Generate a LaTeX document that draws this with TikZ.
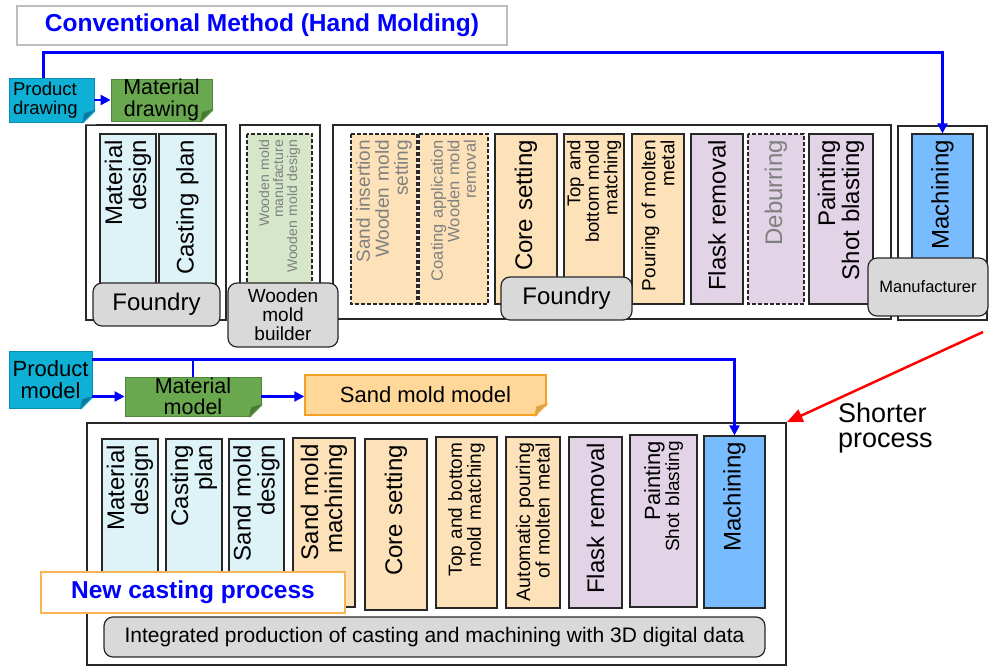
\documentclass[tikz,border=0pt]{standalone}
\usepackage{fontspec}
\setmainfont{Liberation Sans}
\usepackage{tikz}
\usetikzlibrary{arrows.meta}

\definecolor{edge}{RGB}{40,40,40}
\definecolor{taggray}{RGB}{217,217,217}
\definecolor{paleblue}{RGB}{222,243,248}
\definecolor{palegreen}{RGB}{214,230,200}
\definecolor{paleorange}{RGB}{253,226,185}
\definecolor{palepurple}{RGB}{226,211,230}
\definecolor{machblue}{RGB}{120,187,255}
\definecolor{docblue}{RGB}{15,176,214}
\definecolor{docblueedge}{RGB}{10,140,180}
\definecolor{docbluefold}{RGB}{10,118,152}
\definecolor{docgreen}{RGB}{106,168,79}
\definecolor{docgreenedge}{RGB}{80,135,60}
\definecolor{docgreenfold}{RGB}{74,118,52}
\definecolor{sandfill}{RGB}{255,216,153}
\definecolor{sandedge}{RGB}{245,160,35}
\definecolor{sandfold}{RGB}{212,165,95}
\definecolor{titleedge}{RGB}{190,190,190}
\definecolor{newedge}{RGB}{247,180,80}
\definecolor{ghosttext}{RGB}{128,128,128}

\newcommand{\fsz}[1]{\fontsize{#1}{#1}\selectfont}
% dog-ear at the lower right corner of a document node
\newcommand{\foldcorner}[3]{%
  \fill[white] ([xshift=2pt,yshift=12pt]#1.south east) -- ([xshift=2pt,yshift=-2pt]#1.south east)
     -- ([xshift=-12pt,yshift=-2pt]#1.south east) -- cycle;
  \filldraw[fill=#2, draw=#3, line width=0.8pt] ([yshift=12pt]#1.south east)
     -- ([xshift=-12pt]#1.south east) -- ([xshift=-10pt,yshift=9pt]#1.south east) -- cycle;}

\begin{document}
\begin{tikzpicture}[x=1pt,y=-1pt,
  >={Triangle[width=10pt,length=10pt]},
  stage/.style 2 args={rotate=90, draw=edge, line width=1.2pt, minimum width=#1,
    minimum height=#2, text width=#1-12pt, inner xsep=6pt, inner ysep=0pt, align=right},
  ghost/.style={dash pattern=on 4pt off 2pt, text=ghosttext},
  group/.style={draw=edge, line width=1.4pt, fill=white},
  tag/.style={draw=edge, line width=1.2pt, fill=taggray, rounded corners=9pt,
    inner sep=0pt, align=center},
  doc/.style={line width=0.8pt, inner sep=0pt, align=center},
  flow/.style={->, blue, line width=2.2pt}]
\useasboundingbox (0,0) rectangle (989,668);

\node[draw=titleedge, line width=1.5pt, minimum width=490, minimum height=39, text=blue,
  font=\fsz{24.5}\bfseries] (title) at (262,25.5) {Conventional Method (Hand Molding)};

%% hand molding
\node[group, minimum width=140, minimum height=195] (fA) at (156,222.5) {};
\node[group, minimum width=80, minimum height=193] (wA) at (280,221.5) {};
\node[group, minimum width=558, minimum height=194] (gA) at (612,222) {};
\node[group, minimum width=89, minimum height=194] (mA) at (942.5,223) {};

\node[stage={170}{56}, fill=paleblue, font=\fsz{24}] (mdA) at (128,219) {Material\\design};
\node[stage={170}{57}, fill=paleblue, font=\fsz{24}] (cpA) at (187.5,219) {Casting plan};
\node[stage={170}{65}, ghost, fill=palegreen, font=\fsz{14}] (wmA) at (279.5,219) {Wooden mold\\manufacture\\Wooden mold design};
\node[stage={170}{66}, ghost, fill=paleorange, font=\fsz{19}] (siA) at (384,219) {Sand insertion\\Wooden mold\\setting};
\node[stage={170}{69}, ghost, fill=paleorange, font=\fsz{16.5}] (caA) at (453.5,219) {Coating application\\Wooden mold\\removal};
\node[stage={170}{62}, fill=paleorange, font=\fsz{24}] (csA) at (526,219) {Core setting};
\node[stage={170}{60}, fill=paleorange, font=\fsz{18.5}] (tbA) at (594,219) {Top and\\bottom mold\\matching};
\node[stage={170}{52}, fill=paleorange, font=\fsz{19}] (pmA) at (658,219) {Pouring of molten\\metal};
\node[stage={170}{52}, fill=palepurple, font=\fsz{24}] (frA) at (717,219) {Flask removal};
\node[stage={170}{56}, ghost, fill=palepurple, font=\fsz{24}] (dbA) at (776,219) {Deburring};
\node[stage={170}{64}, fill=palepurple, font=\fsz{24}] (psA) at (841,219) {Painting\\Shot blasting};
\node[stage={170}{61}, fill=machblue, font=\fsz{24}] (mcA) at (942.5,219) {Machining};

\node[tag, minimum width=127, minimum height=43, font=\fsz{24}] (fdA) at (156.5,304.5) {Foundry};
\node[tag, minimum width=110, minimum height=64, font=\fsz{19}] (wdA) at (283,315) {Wooden\\mold\\builder};
\node[tag, minimum width=131, minimum height=43, font=\fsz{24}] (fdB) at (566.5,298.5) {Foundry};
\node[tag, minimum width=120, minimum height=58, font=\fsz{16.5}] (mfA) at (928,287) {Manufacturer};

\node[doc, fill=docblue, draw=docblueedge, minimum width=85, minimum height=44, text width=77,
  align=left, font=\fsz{18.5}] (pd) at (51.5,100) {Product\\drawing};
\node[doc, fill=docgreen, draw=docgreenedge, minimum width=101, minimum height=42,
  font=\fsz{21.5}] (md) at (161.5,100) {Material\\drawing};
\foldcorner{pd}{docbluefold}{docblueedge}
\foldcorner{md}{docgreenfold}{docgreenedge}

% the stage nodes are turned, so their top side is .east
\draw[flow] (pd.east) -- (md.west);
\draw[flow] ([xshift=-8pt]pd.north) -- ++(0,-25) -| (mcA.east);

%% new process
\node[group, minimum width=699, minimum height=242] (nB) at (436.5,544) {};

\node[stage={151}{56}, fill=paleblue, font=\fsz{24}] (mdB) at (130,514.5) {Material\\design};
\node[stage={151}{56}, fill=paleblue, font=\fsz{24}] (cpB) at (194,514.5) {Casting\\plan};
\node[stage={151}{55}, fill=paleblue, font=\fsz{24}] (sdB) at (256.5,514.5) {Sand mold\\design};
\node[stage={169}{62}, fill=paleorange, font=\fsz{24}] (smB) at (324,522.5) {Sand mold\\machining};
\node[stage={171}{62}, fill=paleorange, font=\fsz{24}] (csB) at (396,524.5) {Core setting};
\node[stage={171}{61}, fill=paleorange, font=\fsz{19}] (tbB) at (466.5,522.5) {Top and bottom\\mold matching};
\node[stage={171}{54}, fill=paleorange, font=\fsz{19.5}] (apB) at (533,522.5) {Automatic pouring\\of molten metal};
\node[stage={171}{53}, fill=palepurple, font=\fsz{24}] (frB) at (595.5,522.5) {Flask removal};
\node[stage={172}{67}, fill=palepurple, font=\fsz{19}] (psB) at (663.5,521) {{\fsz{22}Painting}\\Shot blasting};
\node[stage={172}{61}, fill=machblue, font=\fsz{24}] (mcB) at (734.5,522) {Machining};

\node[draw=newedge, line width=1.5pt, fill=white, minimum width=304, minimum height=41,
  text=blue, font=\fsz{24.5}\bfseries] (newtag) at (193,592.5) {New casting process};
\node[tag, minimum width=661, minimum height=40, font=\fsz{21}] (intB) at (434.5,637)
  {Integrated production of casting and machining with 3D digital data};

\node[doc, fill=docblue, draw=docblueedge, minimum width=83, minimum height=57,
  font=\fsz{22}] (pm) at (50.5,379.5) {Product\\model};
\node[doc, fill=docgreen, draw=docgreenedge, minimum width=136, minimum height=39,
  font=\fsz{21.5}] (mm) at (193,396.5) {Material\\model};
\node[doc, fill=sandfill, draw=sandedge, line width=1.5pt, minimum width=241, minimum height=40,
  font=\fsz{22}] (smm) at (425.5,395) {Sand mold model};
\foldcorner{pm}{docbluefold}{docblueedge}
\foldcorner{mm}{docgreenfold}{docgreenedge}
\foldcorner{smm}{sandfold}{sandedge}

\draw[flow] (pm.east |- mm.west) -- (mm.west);
\draw[flow] (mm.east) -- (mm.east -| smm.west);
\draw[flow] ([yshift=20pt]pm.east) -| (mcB.east);
\draw[blue, line width=2.2pt] (mm.north) -- ++(0,-17);

% shorter process
\coordinate (redtail) at (983,332);
\draw[-{Triangle[width=13pt,length=16pt]}, red, line width=2.5pt] (redtail) -- (nB.north east);
\node[anchor=north west, align=left, inner sep=0pt, font=\fontsize{27}{25}\selectfont]
  (shorter) at (838,403) {Shorter\\process};
\end{tikzpicture}
\end{document}
